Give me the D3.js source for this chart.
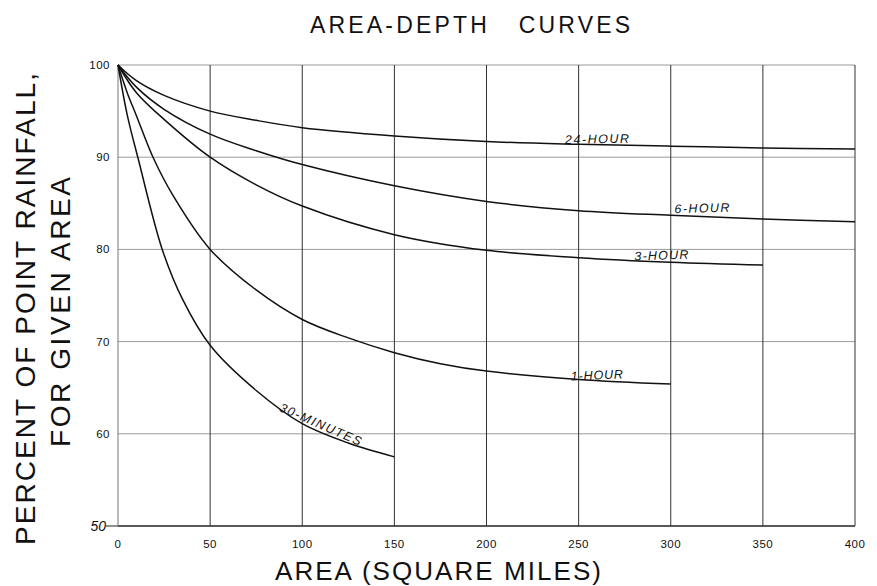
<!DOCTYPE html>
<html><head><meta charset="utf-8">
<script src="https://cdn.jsdelivr.net/npm/d3@7/dist/d3.min.js"></script>
<style>body{margin:0;background:#fff}svg{display:block}text{font-family:"Liberation Sans",Arial,sans-serif;fill:#111}</style>
</head><body><svg id="c" width="877" height="586"></svg>
<script>
const xTicks = [0,50,100,150,200,250,300,350,400];
const yTicks = [50,60,70,80,90,100];
const seriesNames = ["24-HOUR","6-HOUR","3-HOUR","1-HOUR","30-MINUTES"];
const area24 = [0,10,25,50,75,100,150,200,250,300,350,400];
const pct24  = [100,98.3,96.7,95.0,94.0,93.2,92.3,91.7,91.4,91.2,91.0,90.9];
const area6  = [0,10,25,50,75,100,150,200,250,300,350,400];
const pct6   = [100,97.6,95.2,92.5,90.7,89.2,86.9,85.2,84.2,83.7,83.3,83.0];
const area3  = [0,10,25,50,75,100,150,200,250,300,350];
const pct3   = [100,97.0,94.1,90.0,87.0,84.7,81.6,79.9,79.1,78.6,78.3];
const area1  = [0,5,10,19,30,50,75,100,125,150,175,200,250,300];
const pct1   = [100,97.0,94.5,90.0,85.8,80.0,75.6,72.4,70.4,68.8,67.6,66.8,65.9,65.4];
const area30 = [0,5,11,24,35,50,75,100,125,150];
const pct30  = [100,94.6,89.8,80.0,74.6,69.6,64.7,61.1,59.0,57.5];
const labelPos = [[260,91.5,-1.2],[317,84.0,-1.5],[295,78.9,-1.8],[260,65.9,-2.5],[109,60.6,23.5]];
const labelLen = [64,55,54,52,88];

const svg = d3.select("#c");
const x = d3.scaleLinear().domain([0,400]).range([118,855]);
const y = d3.scaleLinear().domain([50,100]).range([526,65]);

// grid
svg.append("g").selectAll("line").data(yTicks).join("line")
  .attr("x1",x(0)).attr("x2",x(400)).attr("y1",d=>y(d)).attr("y2",d=>y(d))
  .attr("stroke",d=>d===50?"#222":"#9a9a9a").attr("stroke-width",d=>d===50?1.4:1);
svg.append("g").selectAll("line").data(xTicks).join("line")
  .attr("y1",y(50)).attr("y2",y(100)).attr("x1",d=>x(d)).attr("x2",d=>x(d))
  .attr("stroke",d=>d===0?"#777":"#333").attr("stroke-width",1);

// tick labels
svg.append("g").selectAll("text").data(yTicks.filter(d=>d!==50)).join("text")
  .attr("x",110).attr("y",d=>y(d)+4).attr("text-anchor","end")
  .style("font-size","11.5px").style("letter-spacing","0.5px").text(d=>d);
svg.append("text").attr("x",106).attr("y",y(50)+5).attr("text-anchor","end")
  .style("font-size","14px").style("font-style","italic").text("50");
svg.append("line").attr("x1",106).attr("x2",118).attr("y1",y(50)).attr("y2",y(50)).attr("stroke","#222");
svg.append("g").selectAll("text").data(xTicks).join("text")
  .attr("x",d=>x(d)).attr("y",548).attr("text-anchor","middle")
  .style("font-size","11.5px").style("letter-spacing","0.5px").text(d=>d);

// curves
const line = d3.line().x(d=>x(d[0])).y(d=>y(d[1])).curve(d3.curveCatmullRom.alpha(0.5));
const series = [[area24,pct24],[area6,pct6],[area3,pct3],[area1,pct1],[area30,pct30]];
series.forEach(([a,p])=>{
  svg.append("path").attr("d",line(a.map((v,i)=>[v,p[i]])))
    .attr("fill","none").attr("stroke","#111").attr("stroke-width",1.5);
});

// series labels
seriesNames.forEach((n,i)=>{
  const [ax,py,rot]=labelPos[i];
  svg.append("text").attr("transform",`translate(${x(ax)},${y(py)}) rotate(${rot})`)
    .attr("text-anchor","middle").style("font-size","12.5px").style("font-style","italic")
    .attr("textLength",labelLen[i]).attr("lengthAdjust","spacing").text(n);
});

// titles
svg.append("text").attr("x",470).attr("y",33).attr("text-anchor","middle")
  .style("font-size","23px").attr("textLength",320).attr("lengthAdjust","spacing")
  .attr("xml:space","preserve").text("AREA-DEPTH   CURVES");
svg.append("text").attr("x",438).attr("y",580).attr("text-anchor","middle")
  .style("font-size","26px").attr("textLength",326).attr("lengthAdjust","spacing").text("AREA (SQUARE MILES)");
svg.append("text").attr("transform","translate(35,309) rotate(-90)").attr("text-anchor","middle")
  .style("font-size","28px").attr("textLength",472).attr("lengthAdjust","spacing").text("PERCENT OF POINT RAINFALL,");
svg.append("text").attr("transform","translate(70,312) rotate(-90)").attr("text-anchor","middle")
  .style("font-size","28px").attr("textLength",270).attr("lengthAdjust","spacing").text("FOR GIVEN AREA");
</script></body></html>
